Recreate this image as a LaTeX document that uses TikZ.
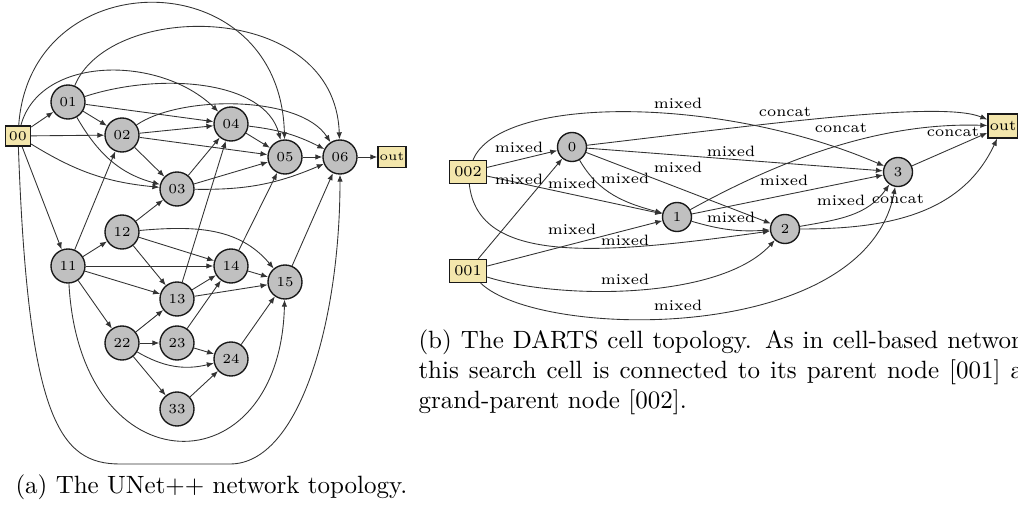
\documentclass[tikz,border=0pt]{standalone}
\usetikzlibrary{arrows.meta}
\definecolor{iofill}{RGB}{243,230,172}
\definecolor{opfill}{RGB}{192,192,192}
\tikzstyle{stage} = [circle, 
draw=black!90, 
fill=opfill, 
line width=0.55pt, 
minimum size=13.6pt, 
inner sep=0pt, 
font=\fontsize{5.5}{6}\selectfont]
\tikzstyle{term} = [rectangle, 
draw=black!90, 
fill=iofill, 
line width=0.55pt, 
minimum width=10pt, 
minimum height=8pt, 
inner sep=0pt, 
font=\fontsize{5.3}{6}\selectfont]
\tikzstyle{cellop} = [stage, minimum size=11.6pt]
\tikzstyle{cellio} = [term, 
minimum width=14.8pt, 
minimum height=9.2pt, 
font=\fontsize{6}{7}\selectfont]
\tikzstyle{arrow} = [line width=0.35pt, draw=black!80, -{Latex[length=2.8pt,width=2.2pt]}]
\tikzstyle{lbl} = [font=\fontsize{6}{7}\selectfont, inner sep=0pt]
\tikzstyle{caption} = [inner sep=0pt]

\begin{document}
\begin{tikzpicture}[x=0.4pt, y=-0.4pt]
	\useasboundingbox (0,0) rectangle (1018,511);
	\clip (0,0) rectangle (1018,511);

	% UNet++ nodes
	\node (n00) [term] at (18,136) {00};
	\node (n01) [stage] at (68,102) {01};
	\node (n02) [stage] at (122,135) {02};
	\node (n03) [stage] at (177,189) {03};
	\node (n04) [stage] at (231,124) {04};
	\node (n05) [stage] at (285,157) {05};
	\node (n06) [stage] at (340,157) {06};
	\node (nout) [term, minimum width=11.2pt, minimum height=8.4pt, font=\fontsize{5}{6}\selectfont] at (392,157) {out};
	\node (n11) [stage] at (68,266) {11};
	\node (n12) [stage] at (122,232) {12};
	\node (n13) [stage] at (177,299) {13};
	\node (n14) [stage] at (231,266) {14};
	\node (n15) [stage] at (285,282) {15};
	\node (n22) [stage] at (122,343) {22};
	\node (n23) [stage] at (177,343) {23};
	\node (n24) [stage] at (231,359) {24};
	\node (n33) [stage] at (177,409) {33};

	\draw [arrow] (n00) -- (n01);
	\draw [arrow] (n00) -- (n02);
	\draw [arrow] (n00) to[bend right=13] (n03);
	\draw [arrow] (n00) .. controls (40,55) and (160,55) .. (n04);
	\draw [arrow] (n00) .. controls (30,-40) and (280,-40) .. (n05);
	\draw [arrow] (n00) .. controls (28,420) and (60,464) .. (120,464) -- (230,464) .. controls (300,464) and (340,320) .. (n06);
	\draw [arrow] (n00) -- (n11);
	\draw [arrow] (n01) -- (n02);
	\draw [arrow] (n01) to[out=-60, in=165] (n03);
	\draw [arrow] (n01) -- (n04);
	\draw [arrow] (n01) .. controls (160,72) and (265,80) .. (n05);
	\draw [arrow] (n01) .. controls (110,0) and (335,0) .. (n06);
	\draw [arrow] (n02) -- (n03);
	\draw [arrow] (n02) -- (n04);
	\draw [arrow] (n02) -- (n05);
	\draw [arrow] (n02) .. controls (180,95) and (300,95) .. (n06);
	\draw [arrow] (n03) -- (n04);
	\draw [arrow] (n03) -- (n05);
	\draw [arrow] (n03) to[bend right=12] (n06);
	\draw [arrow] (n04) -- (n05);
	\draw [arrow] (n04) to[bend left=10] (n06);
	\draw [arrow] (n05) -- (n06);
	\draw [arrow] (n06) -- (nout);

	\draw [arrow] (n11) -- (n02);
	\draw [arrow] (n11) -- (n12);
	\draw [arrow] (n11) -- (n13);
	\draw [arrow] (n11) -- (n14);
	\draw [arrow] (n11) .. controls (80,490) and (280,490) .. (n15);
	\draw [arrow] (n11) -- (n22);
	\draw [arrow] (n12) -- (n03);
	\draw [arrow] (n12) -- (n13);
	\draw [arrow] (n12) -- (n14);
	\draw [arrow] (n12) to[out=5, in=130] (n15);
	\draw [arrow] (n13) -- (n04);
	\draw [arrow] (n13) -- (n14);
	\draw [arrow] (n13) -- (n15);
	\draw [arrow] (n14) -- (n05);
	\draw [arrow] (n14) -- (n15);
	\draw [arrow] (n15) -- (n06);
	\draw [arrow] (n22) -- (n13);
	\draw [arrow] (n22) -- (n23);
	\draw [arrow] (n22) to[bend right=22] (n24);
	\draw [arrow] (n22) -- (n33);
	\draw [arrow] (n23) -- (n14);
	\draw [arrow] (n23) -- (n24);
	\draw [arrow] (n24) -- (n15);
	\draw [arrow] (n33) -- (n24);

	% DARTS cell nodes
	\node (c002) [cellio] at (468,172) {002};
	\node (c001) [cellio] at (468,271) {001};
	\node (c0) [cellop] at (572,147) {0};
	\node (c1) [cellop] at (677,217) {1};
	\node (c2) [cellop] at (785,229) {2};
	\node (c3) [cellop] at (898,172) {3};
	\node (cout) [cellio, minimum width=12pt, minimum height=9.6pt] at (1003,126) {out};

	\draw [arrow] (c002) -- (c0) node (m1) [lbl] at (519,147) {mixed};
	\draw [arrow] (c002) -- (c1) node (m2) [lbl] at (519,179) {mixed};
	\draw [arrow] (c002) .. controls (478,265) and (600,255) .. (c2) node (m3) [lbl] at (625,240) {mixed};
	\draw [arrow] (c002) .. controls (500,95) and (720,95) .. (c3) node (m4) [lbl] at (678,103) {mixed};
	\draw [arrow] (c001) -- (c0) node (m5) [lbl] at (572,183) {mixed};
	\draw [arrow] (c001) -- (c1) node (m6) [lbl] at (572,229) {mixed};
	\draw [arrow] (c001) .. controls (560,300) and (720,300) .. (c2) node (m7) [lbl] at (625,279) {mixed};
	\draw [arrow] (c001) .. controls (540,340) and (865,345) .. (c3) node (m8) [lbl] at (678,305) {mixed};
	\draw [arrow] (c0) to[out=-60, in=165] (c1) node (m9) [lbl] at (625,178) {mixed};
	\draw [arrow] (c0) -- (c2) node (m10) [lbl] at (678,167) {mixed};
	\draw [arrow] (c0) -- (c3) node (m11) [lbl] at (731,151) {mixed};
	\draw [arrow] (c1) to[bend right=10] (c2) node (m12) [lbl] at (731,217) {mixed};
	\draw [arrow] (c1) -- (c3) node (m13) [lbl] at (784,180) {mixed};
	\draw [arrow] (c2) to[out=10, in=-125] (c3) node (m14) [lbl] at (841,200) {mixed};
	\draw [arrow] (c0) .. controls (760,125) and (940,100) .. (cout) node (k1) [lbl] at (785,112) {concat};
	\draw [arrow] (c1) .. controls (780,160) and (880,122) .. (cout) node (k2) [lbl] at (841,128) {concat};
	\draw [arrow] (c2) to[out=0, in=-115] (cout) node (k3) [lbl] at (898,199) {concat};
	\draw [arrow] (c3) -- (cout) node (k4) [lbl] at (953,132) {concat};

	% captions
	\node (capa) [caption, anchor=base west] at (15,493) {(a) The UNet++ network topology.};
	\node (capb) [caption, anchor=base west, text width=253pt, align=justify] at (418,349)
		{(b) The DARTS cell topology. As in cell-based networks, this search cell is connected to its parent node [001] and grand-parent node [002].};
\end{tikzpicture}
\end{document}
